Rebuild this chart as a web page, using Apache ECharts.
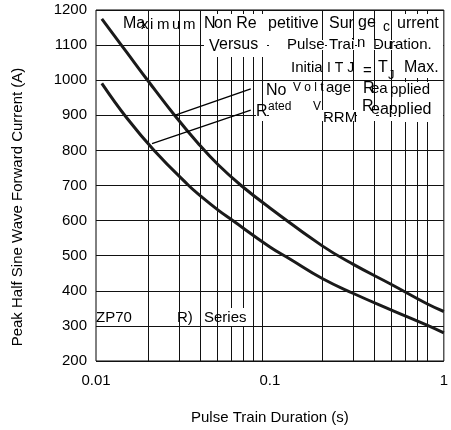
<!DOCTYPE html>
<html><head><meta charset="utf-8">
<script src="https://cdn.jsdelivr.net/npm/echarts@6/dist/echarts.min.js"></script>
<style>html,body{margin:0;padding:0;background:#fff}#c{width:451px;height:430px}</style>
</head><body><div id="c"></div>
<script>
// ---- data ----
const upperX = [0.0108, 0.015, 0.02, 0.0283, 0.0388, 0.0504, 0.0683, 0.1, 0.2, 0.3, 0.5, 0.8, 1.0];
const upperY = [1175, 1080, 997, 900, 819, 759, 700, 636, 528, 476, 418, 363, 341];
const lowerX = [0.0108, 0.015, 0.0216, 0.0341, 0.04, 0.0504, 0.06, 0.1, 0.131, 0.2, 0.3, 0.5, 0.8, 1.0];
const lowerY = [991, 893, 800, 700, 670, 630, 603, 525, 490, 435, 393, 345, 302, 280];
const xGridValues = [0.02, 0.03, 0.04, 0.05, 0.06, 0.07, 0.08, 0.09, 0.2, 0.3, 0.4, 0.5, 0.6, 0.7, 0.8];
const xTickValues = [0.01, 0.1, 1];
const xTickLabels = ['0.01', '0.1', '1'];
const leaderUpper = [[0.0283, 900], [0.0776, 975]];
const leaderLower = [[0.0210, 819], [0.0776, 915]];
const xAxisTitle = 'Pulse Train Duration (s)';
const yAxisTitle = 'Peak Half Sine Wave Forward Current (A)';

// ---- annotation layout (pixels) ----
const FONT = "'Liberation Sans', Arial, sans-serif";
const notes = [
  ['Ma',123,24,16],['x',141,25,15],['i',150,25,15],['m',157,25,15],['u',172,25,15],['m',183,25,15],
  ['N',204,24,16],['on Re',214,24,16],['petitive',268,24,16],['Sur',329,24,16],['ge',358,23,16],['c',383,27,14],['urrent',397,24,16],
  ['V',209,47,16],['ersus',219,45,16],['Pulse',287,45,15],['Trai',329,45,15],['n',357,43,15],['Du',373,45,15],['ration.',390,45,15],
  ['Initia',291,68,15],['I T J',327,68,14],['=',363,71,15],['T',378,68,16],['J',388,75,13],['Max.',404,68,16],
  ['No',266,91,16],['V o l t',293,88,12],['age',326,88,15],['R',363,89,16],['ea',371,89,15],['pplied',390,90,15],
  ['R',256,112,16],['ated',268,107,12],['V',313,107,12],['RRM',323,118,15],['R',362,107,16],['eapplied',371,110,16],
  ['ZP70',96,318,15],['R)',177,318,15],['Series',204,318,15]
];
const masks = [
  [204,14,63,43],[269,40,56,10],[327,40,28,10],[357,40,19,10],[379,40,15,10],
  [396,14,47,64],[396,82,47,40],
  [256,110,11,11],[269,110,56,11],[327,110,28,11],[357,110,19,11],[379,110,15,11],
  [226,308,24,18]
];

const chart = echarts.init(document.getElementById('c'), null, {renderer:'canvas'});
const graphics = [];
masks.forEach(m => graphics.push({type:'rect', shape:{x:m[0],y:m[1],width:m[2],height:m[3]}, style:{fill:'#fff'}, z:50, silent:true}));
notes.forEach(n => graphics.push({type:'text', x:n[1], y:n[2], z:60, silent:true,
  style:{text:n[0], fontSize:n[3], fontFamily:FONT, fill:'#000', verticalAlign:'middle', align:'left'}}));
graphics.push({type:'text', x:18, y:207, rotation:Math.PI/2, z:60, silent:true,
  style:{text:yAxisTitle, fontSize:15, fontFamily:FONT, fill:'#000', align:'center', verticalAlign:'middle'}});

chart.setOption({
  animation:false,
  backgroundColor:'#fff',
  grid:{left:96, right:2, top:10, bottom:67.5, show:true, borderColor:'#000', borderWidth:1, backgroundColor:'transparent'},
  xAxis:{type:'log', logBase:10, min:0.01, max:1,
    axisLine:{show:false}, axisTick:{show:false}, splitLine:{show:false},
    axisLabel:{fontSize:15, fontFamily:FONT, color:'#000', margin:12,
      formatter:v=>{const i=xTickValues.findIndex(t=>Math.abs(Math.log10(t)-Math.log10(v))<1e-6);return i>=0?xTickLabels[i]:'';}},
    name:xAxisTitle, nameLocation:'middle', nameGap:49,
    nameTextStyle:{fontSize:15, fontFamily:FONT, color:'#000'}},
  yAxis:{type:'value', min:200, max:1200, interval:100,
    axisLine:{show:false}, axisTick:{show:false},
    splitLine:{show:true, lineStyle:{color:'#111', width:1}},
    axisLabel:{fontSize:15, fontFamily:FONT, color:'#000', margin:9, formatter:v=>String(v)}},
  graphic:graphics,
  series:[
    {type:'line', data:[], z:1, silent:true,
      markLine:{silent:true, symbol:'none', label:{show:false},
        lineStyle:{color:'#111', width:1, type:'solid'},
        data:xGridValues.map(v=>({xAxis:v}))}},
    {type:'line', z:10, silent:true, smooth:0.45, symbol:'none',
      lineStyle:{color:'#1a1a1a', width:3},
      data:upperX.map((x,i)=>[x,upperY[i]])},
    {type:'line', z:10, silent:true, smooth:0.45, symbol:'none',
      lineStyle:{color:'#1a1a1a', width:3},
      data:lowerX.map((x,i)=>[x,lowerY[i]])},
    {type:'line', z:10, silent:true, symbol:'none', lineStyle:{color:'#000', width:1.3}, data:leaderUpper},
    {type:'line', z:10, silent:true, symbol:'none', lineStyle:{color:'#000', width:1.3}, data:leaderLower}
  ]
});
</script></body></html>
